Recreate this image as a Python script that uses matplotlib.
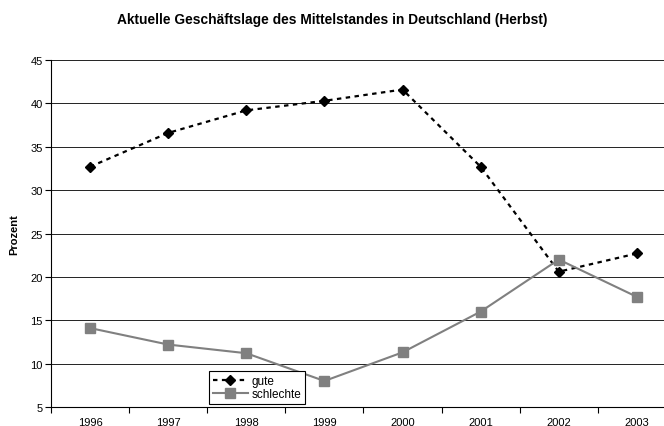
import matplotlib.pyplot as plt

plt.rcParams['font.family'] = ['Liberation Sans', 'DejaVu Sans']

# data
jahre = ["1996", "1997", "1998", "1999", "2000", "2001", "2002", "2003"]
gute = [32.7, 36.6, 39.2, 40.3, 41.6, 32.7, 20.6, 22.7]
schlechte = [14.1, 12.2, 11.2, 8.0, 11.3, 16.0, 22.0, 17.7]

fig = plt.figure(figsize=(6.64, 4.27), dpi=100)
ax = fig.add_axes([0.0768, 0.0445, 0.9412, 0.8125])

x = range(len(jahre))
ax.plot(x, gute, color="black", linestyle=(0, (2, 2)), linewidth=1.6,
        marker="D", markersize=5.5, label="gute")
ax.plot(x, schlechte, color="#808080", linestyle="-", linewidth=1.5,
        marker="s", markersize=7, label="schlechte")

ax.set_xlim(-0.5, len(jahre) - 0.5)
ax.set_ylim(5, 45)
ax.set_yticks(range(5, 46, 5))
ax.set_xticks(list(x))
ax.set_xticklabels(jahre)
ax.set_xticks([i - 0.5 for i in range(len(jahre) + 1)], minor=True)
ax.tick_params(axis="x", which="major", length=0, labelsize=8, pad=7)
ax.tick_params(axis="x", which="minor", length=4, width=0.8, direction="out")
ax.tick_params(axis="y", length=4, width=0.8, labelsize=8, pad=2)

ax.yaxis.grid(True, color="#222222", linewidth=0.7)
ax.set_axisbelow(True)
for s in ["top", "right"]:
    ax.spines[s].set_visible(False)
ax.spines["left"].set_linewidth(0.8)
ax.spines["bottom"].set_linewidth(0.8)

ax.set_ylabel("Prozent", fontsize=8, fontweight="bold", labelpad=8)
fig.suptitle("Aktuelle Geschäftslage des Mittelstandes in Deutschland (Herbst)",
             x=0.5, y=0.97, fontsize=9.9, fontweight="bold")

leg = ax.legend(loc="lower left", bbox_to_anchor=(0.315, 0.0515),
                bbox_transform=fig.transFigure, fontsize=8.5, frameon=True,
                fancybox=False, edgecolor="black", framealpha=1,
                borderpad=0.3, labelspacing=0.15, handlelength=3,
                handletextpad=0.3, borderaxespad=0)
leg.get_frame().set_linewidth(0.8)

fig.savefig("out.png", dpi=100)
